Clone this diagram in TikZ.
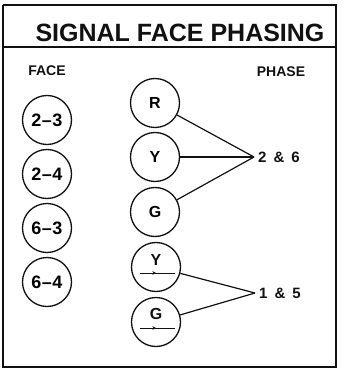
\documentclass[tikz,border=0pt]{standalone}
\usepackage{fontspec}
\setmainfont{Liberation Sans}
\usepackage{xcolor}
\usepackage{tikz}
\usetikzlibrary{arrows.meta,calc}
\definecolor{murekkep}{HTML}{111111}
\tikzset{
  yuz/.style={draw=murekkep,circle,line width=1.3pt,minimum size=49pt,inner sep=0pt,font=\fontsize{16}{16}\selectfont\bfseries},
  baglanti/.style={draw=murekkep,line width=1.2pt},
  etiket/.style={text=murekkep,inner sep=0pt,font=\fontsize{15}{15}\selectfont\bfseries}
}
\begin{document}
\begin{tikzpicture}[x=1pt,y=-1pt]
\useasboundingbox (0,0) rectangle (361,371);
% cerceve
\draw[murekkep,line width=1.2pt] (3,5) -- (336,5);
\draw[murekkep,line width=1.2pt] (3,5) -- (3,366);
\draw[murekkep,line width=1.2pt] (3,47) -- (336,47);
\draw[murekkep,line width=2.4pt] (336,4) -- (336,367) -- (2,367);
\node[etiket,font=\fontsize{25}{25}\selectfont\bfseries] (baslik) at (180,33) {SIGNAL FACE PHASING};
\node[etiket,font=\fontsize{14}{14}\selectfont\bfseries] (yuzBaslik) at (47,71) {FACE};
\node[etiket,font=\fontsize{14}{14}\selectfont\bfseries] (fazBaslik) at (281,72) {PHASE};
% yuzler
\node[yuz,font=\fontsize{18}{18}\selectfont\bfseries] (f23) at (47,120) {2\kern0.5pt--\kern0.5pt3};
\node[yuz,font=\fontsize{18}{18}\selectfont\bfseries] (f24) at (47,174) {2\kern0.5pt--\kern0.5pt4};
\node[yuz,font=\fontsize{18}{18}\selectfont\bfseries] (f63) at (47,228) {6\kern0.5pt--\kern0.5pt3};
\node[yuz,font=\fontsize{18}{18}\selectfont\bfseries] (f64) at (47,282) {6\kern0.5pt--\kern0.5pt4};
% fazlar
\node[yuz] (R) at (155,103) {R};
\node[yuz] (Y) at (155,157) {Y};
\node[yuz] (G) at (155,212) {G};
\node[yuz] (Yok) at (156,267) {};
\node[yuz] (Gok) at (156,322) {};
\node[etiket,font=\fontsize{16}{16}\selectfont\bfseries] (YokHarf) at ($(Yok.center)+(0,-7)$) {Y};
\node[etiket,font=\fontsize{16}{16}\selectfont\bfseries] (GokHarf) at ($(Gok.center)+(0,-8)$) {G};
\draw[murekkep,line width=1pt,-{Stealth[length=3.5pt,width=3.5pt]}] ($(Yok.center)+(-16,6)$) -- ($(Yok.center)+(0,6)$);
\draw[murekkep,line width=1pt] ($(Yok.center)+(-1,6)$) -- ($(Yok.center)+(19,6)$);
\draw[murekkep,line width=1pt,-{Stealth[length=3.5pt,width=3.5pt]}] ($(Gok.center)+(-16,6)$) -- ($(Gok.center)+(0,6)$);
\draw[murekkep,line width=1pt] ($(Gok.center)+(-1,6)$) -- ($(Gok.center)+(19,6)$);
% baglantilar
\coordinate (u26) at (254,157);
\coordinate (u15) at (255,293);
\node[etiket,anchor=west] (f26) at (258,157) {2\hspace{7pt}\&\hspace{7pt}6};
\node[etiket,anchor=west] (f15) at (259,293) {1\hspace{7pt}\&\hspace{7pt}5};
\draw[baglanti] (R) -- (u26);
\draw[baglanti] (Y) -- (u26);
\draw[baglanti] (G) -- (u26);
\draw[baglanti] (Yok) -- (u15);
\draw[baglanti] (Gok) -- (u15);
\end{tikzpicture}
\end{document}
